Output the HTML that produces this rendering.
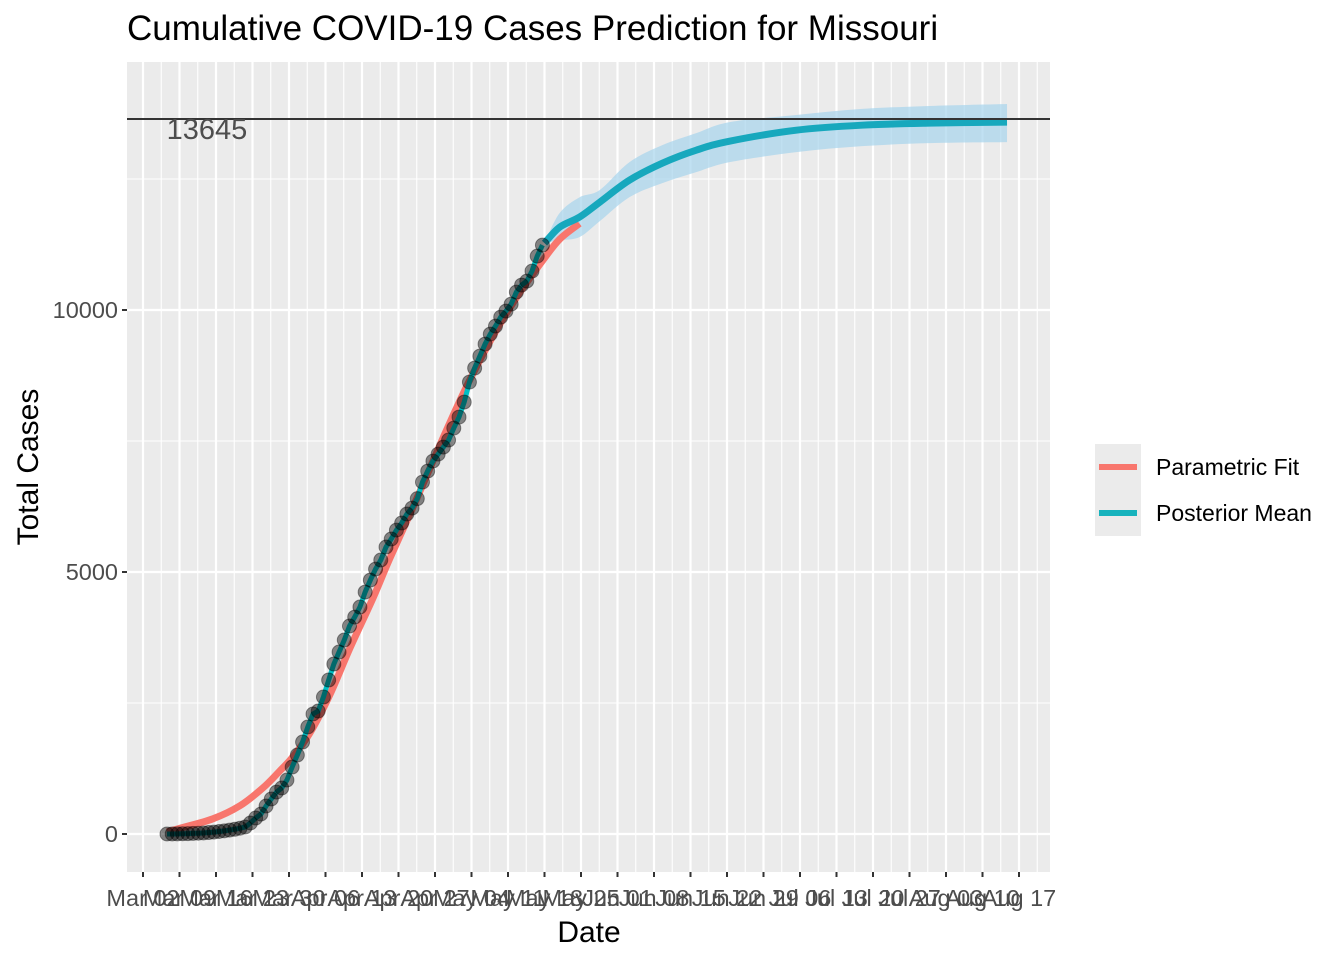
<!DOCTYPE html>
<html><head><meta charset="utf-8"><style>
body{margin:0;background:#fff;}
svg text{font-family:"Liberation Sans",Arial,sans-serif;}
</style></head><body>
<svg id="chart" width="1344" height="960" xmlns="http://www.w3.org/2000/svg"></svg>
<script>
const tickLabels=["Mar 02","Mar 09","Mar 16","Mar 23","Mar 30","Apr 06","Apr 13","Apr 20","Apr 27","May 04","May 11","May 18","May 25","Jun 01","Jun 08","Jun 15","Jun 22","Jun 29","Jul 06","Jul 13","Jul 20","Jul 27","Aug 03","Aug 10","Aug 17"];
const yTicks=[0,5000,10000];
// observed cumulative cases, daily from Mar 07
const obsValues=[1,1,2,5,6,11,15,20,28,36,48,60,75,90,110,134,210,305,380,534,668,800,878,1030,1278,1507,1755,2042,2290,2347,2614,2938,3244,3473,3702,3969,4140,4331,4617,4846,5056,5228,5476,5629,5800,5934,6106,6220,6400,6716,6926,7117,7250,7384,7518,7746,7956,8243,8624,8891,9120,9349,9540,9693,9864,9979,10112,10341,10475,10551,10742,11028,11238];
const fitDays=[0,2.5,8.8,14,18.4,21.6,24.1,27.4,31.2,35.1,39.5,42.7,47.9,52.9,57.5,62.5,67.1,72.1,75.3,79.1];
const fitValues=[40,110,290,540,880,1200,1469,1927,2650,3550,4500,5250,6400,7550,8550,9500,10250,10950,11350,11650];
const postDays=[72.4,75.3,79.1,83,88.7,95,101.5,107.9,120.7,133.3,146.2,161.1];
const postMean=[11276,11581,11772,12058,12478,12802,13050,13222,13432,13527,13566,13585];
const postUpper=[11276,11850,12150,12290,12822,13146,13375,13585,13722,13838,13894,13932];
const postLower=[11276,11333,11391,11696,12154,12421,12631,12822,13013,13127,13184,13203];
const capValue=13645;

const NS="http://www.w3.org/2000/svg";
const svg=document.getElementById('chart');
const L=127,R=1050,T=62,B=872;
const dayPx=36.5/7, day0X=167; // day 0 = Mar 07
const xs=d=>day0X+d*dayPx;
const tickX=i=>143+i*36.5;
const ys=v=>834-v*(262/5000);
function el(tag,attrs,parent){const e=document.createElementNS(NS,tag);for(const k in attrs)e.setAttribute(k,attrs[k]);(parent||svg).appendChild(e);return e;}

const panel=el('rect',{x:L,y:T,width:R-L,height:B-T,fill:'#ebebeb'});


const grid=el('g',{});


for(let i=-1;i<tickLabels.length;i++){const x=tickX(i)+18.25;if(x>L&&x<R)el('line',{x1:x,x2:x,y1:T,y2:B,stroke:'#fff','stroke-width':1.1},grid);}
[-2500,2500,7500,12500].forEach(v=>{const y=ys(v);if(y>T&&y<B)el('line',{x1:L,x2:R,y1:y,y2:y,stroke:'#fff','stroke-width':1.1},grid);});
tickLabels.forEach((t,i)=>{const x=tickX(i);el('line',{x1:x,x2:x,y1:T,y2:B,stroke:'#fff','stroke-width':2.2},grid);});
yTicks.forEach(v=>{const y=ys(v);el('line',{x1:L,x2:R,y1:y,y2:y,stroke:'#fff','stroke-width':2.2},grid);});

function smoothPath(xsArr,ysArr,cont){let d=(cont?'L':'M')+xsArr[0]+','+ysArr[0];for(let i=1;i<xsArr.length;i++){const x0=xsArr[i-1],y0=ysArr[i-1],x1=xsArr[i],y1=ysArr[i];const xp=i>1?xsArr[i-2]:x0,yp=i>1?ysArr[i-2]:y0;const xn=i<xsArr.length-1?xsArr[i+1]:x1,yn=i<xsArr.length-1?ysArr[i+1]:y1;d+='C'+(x0+(x1-xp)/6)+','+(y0+(y1-yp)/6)+' '+(x1-(xn-x0)/6)+','+(y1-(yn-y0)/6)+' '+x1+','+y1;}return d;}

const bp=smoothPath(postDays.map(xs),postUpper.map(ys))+smoothPath(postDays.map(xs).reverse(),postLower.map(ys).reverse(),true)+'Z';
const band=el('path',{d:bp,fill:'#a6d4ec','fill-opacity':0.7});



const fit=el('path',{d:smoothPath(fitDays.map(xs),fitValues.map(ys)),fill:'none',stroke:'#f8766d','stroke-width':7});


const obsDays=obsValues.map((v,i)=>i);
const obsLine=el('path',{d:'M'+obsValues.map((v,i)=>xs(obsDays[i])+','+ys(v)).join('L'),fill:'none',stroke:'#00bfc4','stroke-width':5});


const mean=el('path',{d:smoothPath(postDays.map(xs),postMean.map(ys)),fill:'none',stroke:'#17a8bd','stroke-width':7});



const pts=el('g',{});


obsValues.forEach((v,i)=>{const c=el('circle',{cx:xs(obsDays[i]),cy:ys(v),r:7,fill:'#000','fill-opacity':0.45,stroke:'#000','stroke-opacity':0.4,'stroke-width':1},pts);

});

const cap=el('line',{x1:L,x2:R,y1:ys(capValue),y2:ys(capValue),stroke:'#333','stroke-width':2});


const capT=el('text',{x:207,y:ys(capValue)+20,'text-anchor':'middle','font-size':29,fill:'#4d4d4d'});
capT.textContent=String(capValue);



tickLabels.forEach((t,i)=>{const x=tickX(i);el('line',{x1:x,x2:x,y1:B,y2:B+5,stroke:'#333','stroke-width':2});
const tx=el('text',{x:x,y:906,'text-anchor':'middle','font-size':23.5,fill:'#4d4d4d'});tx.textContent=t;

});
yTicks.forEach(v=>{const y=ys(v);el('line',{x1:L-5,x2:L,y1:y,y2:y,stroke:'#333','stroke-width':2});
const tx=el('text',{x:118,y:y+8,'text-anchor':'end','font-size':23.5,fill:'#4d4d4d'});tx.textContent=v;

});

const title=el('text',{x:127,y:40,'font-size':35,fill:'#000'});title.textContent='Cumulative COVID-19 Cases Prediction for Missouri';


const xt=el('text',{x:589,y:942,'text-anchor':'middle','font-size':30,fill:'#000'});xt.textContent='Date';


const yt=el('text',{x:0,y:0,'text-anchor':'middle','font-size':30,fill:'#000',transform:'translate(38,467) rotate(-90)'});yt.textContent='Total Cases';



const lg=el('g',{});


el('rect',{x:1095,y:444,width:46,height:92,fill:'#ebebeb'},lg);
[['Parametric Fit','#f8766d',467],['Posterior Mean','#17b3bd',513]].forEach(([n,c,y])=>{
const g=el('g',{},lg);


el('line',{x1:1099,x2:1137,y1:y,y2:y,stroke:c,'stroke-width':6},g);
const t=el('text',{x:1156,y:y+8,'font-size':23,fill:'#000'},g);t.textContent=n;});
</script>
</body></html>
